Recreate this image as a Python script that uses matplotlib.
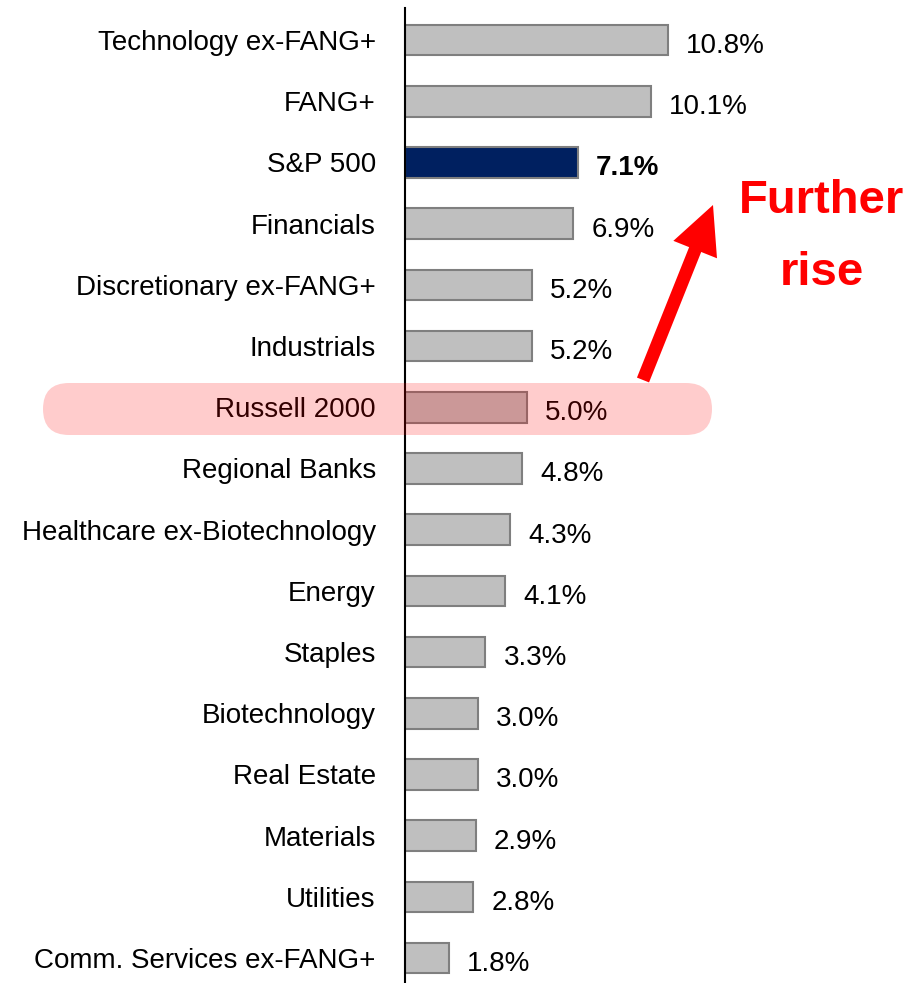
import matplotlib
matplotlib.use("Agg")
import matplotlib.pyplot as plt
from matplotlib.patches import FancyBboxPatch, FancyArrow
from matplotlib import font_manager

# data
categories = [
    "Technology ex-FANG+", "FANG+", "S&P 500", "Financials",
    "Discretionary ex-FANG+", "Industrials", "Russell 2000", "Regional Banks",
    "Healthcare ex-Biotechnology", "Energy", "Staples", "Biotechnology",
    "Real Estate", "Materials", "Utilities", "Comm. Services ex-FANG+",
]
values = [10.8, 10.1, 7.1, 6.9, 5.2, 5.2, 5.0, 4.8, 4.3, 4.1, 3.3, 3.0, 3.0, 2.9, 2.8, 1.8]
highlight_bench = "S&P 500"
highlight_row = "Russell 2000"

names = {f.name for f in font_manager.fontManager.ttflist}
fam = "Liberation Sans Narrow" if "Liberation Sans Narrow" in names else "Liberation Sans"
plt.rcParams["font.family"] = [fam, "DejaVu Sans"]

W, H = 915, 983
fig = plt.figure(figsize=(W / 100, H / 100), dpi=100)
ax = fig.add_axes([405 / W, 0, 1 - 405 / W, 1 - 8 / H])

colors = ["#002060" if c == highlight_bench else "#BFBFBF" for c in categories]
y = list(range(len(categories)))
ax.barh(y, values, height=0.5, color=colors, edgecolor="#7F7F7F", linewidth=1.5)

# value labels at bar ends
for yi, v, c in zip(y, values, categories):
    ax.text(v + 0.75, yi + 0.05, f"{v:.1f}%", va="center_baseline", ha="left", fontsize=20,
            fontweight="bold" if c == highlight_bench else "normal")

ax.set_yticks(y)
ax.set_yticklabels(categories, fontsize=20, va="center_baseline")
ax.tick_params(axis="y", length=0, pad=21)
ax.set_xticks([])
ax.set_ylim((983 - 40) / 61.2, (8 - 40) / 61.2)
ax.set_xlim(0, (W - 405) / 24.35)
for s in ["top", "right", "bottom"]:
    ax.spines[s].set_visible(False)
ax.spines["left"].set_linewidth(1.5)

# overlay in pixel coordinates for annotations
ov = fig.add_axes([0, 0, 1, 1], zorder=5)
ov.set_xlim(0, W)
ov.set_ylim(H, 0)
ov.axis("off")
ov.patch.set_alpha(0)

ov.add_patch(FancyBboxPatch((43, 383), 669, 52, boxstyle="round,pad=0,rounding_size=26",
                            facecolor="red", alpha=0.2, edgecolor="none"))
ov.add_patch(FancyArrow(643, 380, 70, -175, width=13, head_width=47, head_length=48,
                        length_includes_head=True, color="red", linewidth=0))
ov.text(822, 213, "Further", color="red", fontsize=34, fontweight="bold",
        ha="center", va="baseline")
ov.text(822, 285, "rise", color="red", fontsize=34, fontweight="bold",
        ha="center", va="baseline")

fig.savefig("out.png", dpi=100)
